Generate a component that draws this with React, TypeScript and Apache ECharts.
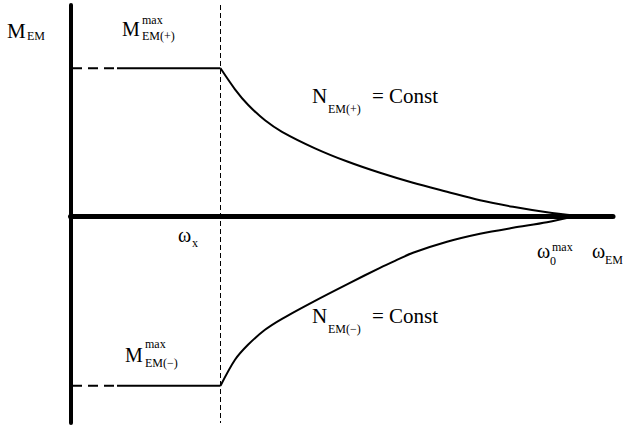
import { useEffect, useRef } from "react";
import * as echarts from "echarts";

// Characteristic points (ω on x, M on y, arbitrary units)
const OMEGA_X = 3;
const OMEGA_0_MAX = 10.12;
const M_MAX_POS = 2.95;
const M_MAX_NEG = -3.4;
const DASH_END = 0.93;

const X_MIN = 0;
const X_MAX = 10.85;
const Y_MIN = -4.144;
const Y_MAX = 4.216;

// Constant-power branch, motoring (+)
const upperOmega = [OMEGA_X, 3.29, 3.55, 3.89, 4.23, 4.89, 5.55, 6.19, 6.85, 7.53, 8.19, 8.85, 9.53, OMEGA_0_MAX];
const upperM = [M_MAX_POS, 2.53, 2.22, 1.91, 1.68, 1.35, 1.08, 0.86, 0.66, 0.48, 0.31, 0.18, 0.07, 0];

// Constant-power branch, braking (−)
const lowerOmega = [OMEGA_X, 3.29, 3.55, 3.89, 4.23, 4.89, 5.55, 6.19, 6.49, 6.85, 7.53, 8.19, 8.85, 9.53, OMEGA_0_MAX];
const lowerM = [M_MAX_NEG, -2.88, -2.58, -2.28, -2.06, -1.7, -1.36, -1.04, -0.9, -0.74, -0.52, -0.36, -0.24, -0.13, 0];

const zip = (xs: number[], ys: number[]) => xs.map((x, i) => [x, ys[i]]);

const FONT = "Times New Roman";

type Piece = { t: string; x: number; y: number; s: number };

// Formula labels: base glyphs, subscripts and superscripts (x = left, y = top)
const labelPieces: Piece[] = [
  { t: "M", x: 7, y: 20, s: 21 },
  { t: "EM", x: 27, y: 30.3, s: 12 },

  { t: "M", x: 122, y: 19, s: 20 },
  { t: "max", x: 142, y: 14.3, s: 12 },
  { t: "EM(+)", x: 142, y: 30.3, s: 12 },

  { t: "N", x: 312, y: 85, s: 21 },
  { t: "EM(+)", x: 328, y: 103.3, s: 12 },
  { t: "= Const", x: 372, y: 85, s: 21 },

  { t: "ω", x: 178, y: 225, s: 20 },
  { t: "x", x: 192, y: 237.3, s: 12 },

  { t: "ω", x: 537, y: 240.5, s: 20 },
  { t: "0", x: 550, y: 254.8, s: 12 },
  { t: "max", x: 552, y: 241.3, s: 12 },

  { t: "ω", x: 592, y: 240.5, s: 20 },
  { t: "EM", x: 605, y: 254.3, s: 12 },

  { t: "N", x: 312, y: 305, s: 21 },
  { t: "EM(−)", x: 328, y: 323.3, s: 12 },
  { t: "= Const", x: 372, y: 305, s: 21 },

  { t: "M", x: 125, y: 345, s: 20 },
  { t: "max", x: 145, y: 337.8, s: 12 },
  { t: "EM(−)", x: 145, y: 356.8, s: 12 },
];

export default function App() {
  const ref = useRef<HTMLDivElement>(null);

  useEffect(() => {
    if (!ref.current) return;
    const chart = echarts.init(ref.current, undefined, { renderer: "svg" });

    const black = "#000";
    const base = {
      type: "line" as const,
      showSymbol: false,
      symbol: "none",
      silent: true,
    };

    chart.setOption({
      animation: false,
      grid: { left: 70.5, right: 14, top: 5, bottom: 3, containLabel: false },
      xAxis: {
        type: "value",
        min: X_MIN,
        max: X_MAX,
        axisLine: { onZero: true, lineStyle: { color: black, width: 5 } },
        axisTick: { show: false },
        axisLabel: { show: false },
        splitLine: { show: false },
      },
      yAxis: {
        type: "value",
        min: Y_MIN,
        max: Y_MAX,
        axisLine: { show: true, lineStyle: { color: black, width: 4 } },
        axisTick: { show: false },
        axisLabel: { show: false },
        splitLine: { show: false },
      },
      series: [
        {
          ...base,
          data: [
            [OMEGA_X, Y_MAX],
            [OMEGA_X, Y_MIN],
          ],
          lineStyle: { color: black, width: 1, type: [5, 3] },
        },
        {
          ...base,
          data: [
            [0.03, M_MAX_POS],
            [DASH_END, M_MAX_POS],
          ],
          lineStyle: { color: black, width: 2, type: [10, 6] },
        },
        {
          ...base,
          data: [
            [DASH_END, M_MAX_POS],
            [OMEGA_X, M_MAX_POS],
          ],
          lineStyle: { color: black, width: 2 },
        },
        {
          ...base,
          data: [
            [0.03, M_MAX_NEG],
            [DASH_END, M_MAX_NEG],
          ],
          lineStyle: { color: black, width: 2, type: [10, 6] },
        },
        {
          ...base,
          data: [
            [DASH_END, M_MAX_NEG],
            [OMEGA_X, M_MAX_NEG],
          ],
          lineStyle: { color: black, width: 2 },
        },
        {
          ...base,
          smooth: 0.3,
          data: zip(upperOmega, upperM),
          lineStyle: { color: black, width: 2 },
        },
        {
          ...base,
          smooth: 0.3,
          data: zip(lowerOmega, lowerM),
          lineStyle: { color: black, width: 2 },
        },
      ],
      graphic: labelPieces.map((p) => ({
        type: "text",
        x: p.x,
        y: p.y,
        style: {
          text: p.t,
          fontFamily: FONT,
          fontSize: p.s,
          fontWeight: "normal",
          fontStyle: "normal",
          fill: black,
        },
      })),
    });

    return () => chart.dispose();
  }, []);

  return <div ref={ref} style={{ position: "absolute", left: 0, top: 0, width: 627, height: 426 }} />;
}
